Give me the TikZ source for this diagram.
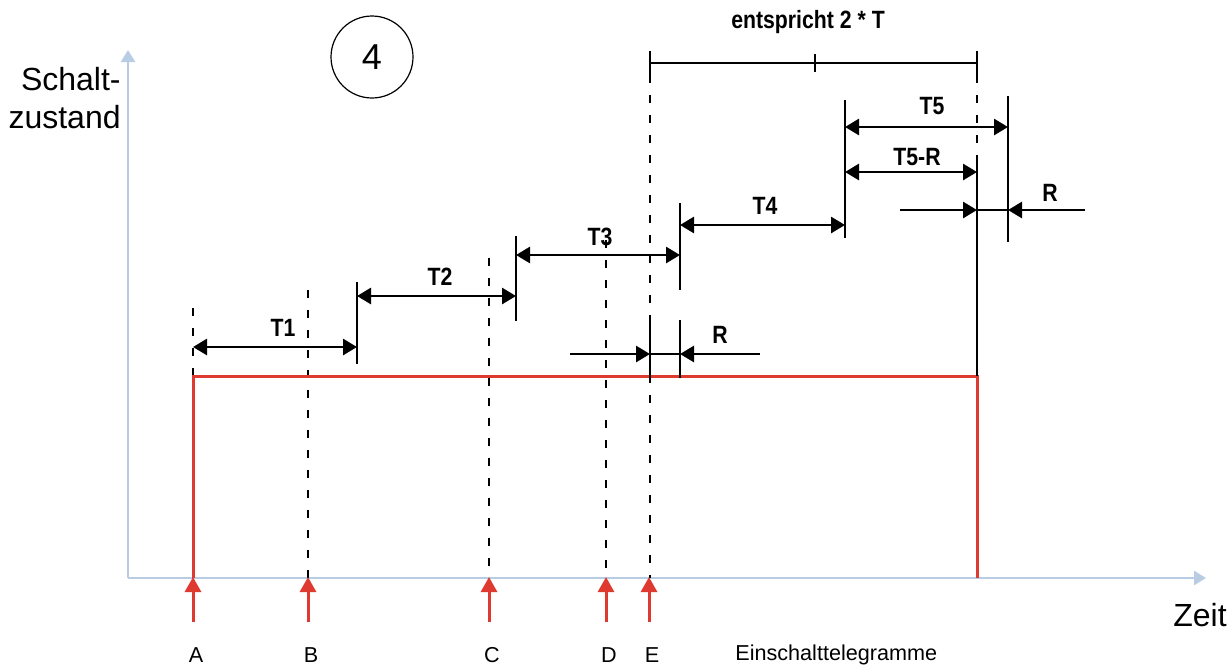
\documentclass[tikz,border=0pt]{standalone}
\usepackage{fontspec}
\setmainfont{Liberation Sans}
\usetikzlibrary{arrows.meta}
\definecolor{axisblue}{RGB}{184,204,228}
\definecolor{sigred}{RGB}{222,58,48}
\begin{document}
\begin{tikzpicture}[x=0.5pt,y=-0.5pt,
  dimarrow/.style={line width=1.4pt,{Triangle[length=7pt,width=8pt]}-{Triangle[length=7pt,width=8pt]}},
  onearrow/.style={line width=1.4pt,-{Triangle[length=7pt,width=8pt]}},
  barline/.style={line width=1.4pt},
  guide/.style={line width=0.9pt,dash pattern=on 4pt off 6pt},
  axisline/.style={axisblue,line width=1.3pt,-{Triangle[length=6pt,width=7pt]}},
  sigline/.style={sigred,line width=1.5pt},
  tele/.style={sigred,line width=1.5pt,-{Triangle[length=7.5pt,width=8pt]}},
  lbl/.style={font=\bfseries\fontsize{12.5}{14}\selectfont,xscale=0.85,inner sep=0pt},
  big/.style={font=\fontsize{16}{19}\selectfont,inner sep=0pt},
  small/.style={font=\fontsize{10.8}{12}\selectfont,inner sep=0pt}]
\useasboundingbox (0,0) rectangle (1230,665);
% axes
\coordinate (O) at (128,578);
\coordinate (ytop) at (128,50);
\coordinate (xend) at (1206,578);
\draw[axisline] (O) -- (ytop);
\draw[axisline] (O) -- (xend);
\node[big,align=right,anchor=east] (ylab) at (121,98) {Schalt-\\zustand};
\node[big,anchor=center] (xlab) at (1200,615) {Zeit};
% circle 4
\node[draw,circle,line width=0.6pt,minimum size=41pt,font=\fontsize{18}{20}\selectfont] (num) at (372,57) {4};
% guide lines (dashed)
\coordinate (gA1) at (193,308); \coordinate (gA2) at (193,578);
\coordinate (gB1) at (308,290); \coordinate (gB2) at (308,578);
\coordinate (gC1) at (489,258); \coordinate (gC2) at (489,578);
\coordinate (gD1) at (606,240); \coordinate (gD2) at (606,578);
\coordinate (gE1) at (650,75);  \coordinate (gE2) at (650,578);
\coordinate (gF1) at (977,75);  \coordinate (gF2) at (977,160);
\foreach \a/\b in {gA1/gA2,gB1/gB2,gC1/gC2,gD1/gD2,gE1/gE2,gF1/gF2}
  \draw[guide] (\a) -- (\b);
% signal
\coordinate (s0) at (193,578);
\coordinate (s1) at (193,376);
\coordinate (s2) at (977,376);
\coordinate (s3) at (977,578);
\draw[sigline] (s0) -- (s1) -- (s2) -- (s3);
% bars
\coordinate (b1t) at (357,282); \coordinate (b1b) at (357,364);
\coordinate (b2t) at (516,236); \coordinate (b2b) at (516,321);
\coordinate (b3t) at (680,203); \coordinate (b3b) at (680,290);
\coordinate (b4t) at (845,100); \coordinate (b4b) at (845,238);
\coordinate (b5t) at (1008,96); \coordinate (b5b) at (1008,242);
\coordinate (bRt) at (977,160); \coordinate (bRb) at (977,376);
\coordinate (rEt) at (650,320); \coordinate (rEb) at (650,378);
\coordinate (rFt) at (680,320); \coordinate (rFb) at (680,378);
\foreach \a/\b in {b1t/b1b,b2t/b2b,b3t/b3b,b4t/b4b,b5t/b5b,bRt/bRb,rEt/rEb,rFt/rFb}
  \draw[barline] (\a) -- (\b);
% dimension arrows
\coordinate (t1a) at (193,347); \coordinate (t1b) at (357,347);
\coordinate (t2a) at (357,296); \coordinate (t2b) at (516,296);
\coordinate (t3a) at (516,255); \coordinate (t3b) at (680,255);
\coordinate (t4a) at (680,225); \coordinate (t4b) at (845,225);
\coordinate (t5a) at (845,127); \coordinate (t5b) at (1008,127);
\coordinate (t6a) at (845,172); \coordinate (t6b) at (977,172);
\draw[dimarrow] (t1a) -- (t1b);
\draw[dimarrow] (t2a) -- (t2b);
\draw[dimarrow] (t3a) -- (t3b);
\draw[dimarrow] (t4a) -- (t4b);
\draw[dimarrow] (t5a) -- (t5b);
\draw[dimarrow] (t6a) -- (t6b);
\node[lbl] (T1) at (283,328) {T1};
\node[lbl] (T2) at (440,277) {T2};
\node[lbl] (T3) at (600,237) {T3};
\node[lbl] (T4) at (765,206) {T4};
\node[lbl] (T5) at (932,106) {T5};
\node[lbl] (T5R) at (917,157) {T5-R};
% R lower
\coordinate (r1s) at (570,354); \coordinate (r1e) at (650,354);
\coordinate (r2s) at (760,354); \coordinate (r2e) at (680,354);
\draw[onearrow] (r1s) -- (r1e);
\draw[barline] (r1e) -- (r2e);
\draw[onearrow] (r2s) -- (r2e);
\node[lbl] (Rlow) at (720,335) {R};
% R upper
\coordinate (r3s) at (900,210); \coordinate (r3e) at (977,210);
\coordinate (r4s) at (1085,210); \coordinate (r4e) at (1008,210);
\draw[onearrow] (r3s) -- (r3e);
\draw[barline] (r3e) -- (r4e);
\draw[onearrow] (r4s) -- (r4e);
\node[lbl] (Rup) at (1050,193) {R};
% top bracket
\coordinate (k1) at (650,63); \coordinate (k2) at (815,63); \coordinate (k3) at (977,63);
\draw[barline] (k1) -- (k3);
\draw[barline] ([yshift=-6pt]k1) -- ([yshift=6pt]k1);
\draw[barline] ([yshift=-4.5pt]k2) -- ([yshift=4.5pt]k2);
\draw[barline] ([yshift=-6pt]k3) -- ([yshift=6pt]k3);
\node[lbl] (two) at (808,22) {entspricht 2 * T};
% telegrams
\foreach \n/\x in {A/193,B/308,C/489,D/606,E/649}{
  \coordinate (tl\n) at (\x,622);
  \coordinate (th\n) at (\x,577);
  \draw[tele] (tl\n) -- (th\n);
  \node[small] (lab\n) at (\x+3,655) {\n};
}
\node[small,anchor=west] (ein) at (735,655) {Einschalttelegramme};
\end{tikzpicture}
\end{document}
